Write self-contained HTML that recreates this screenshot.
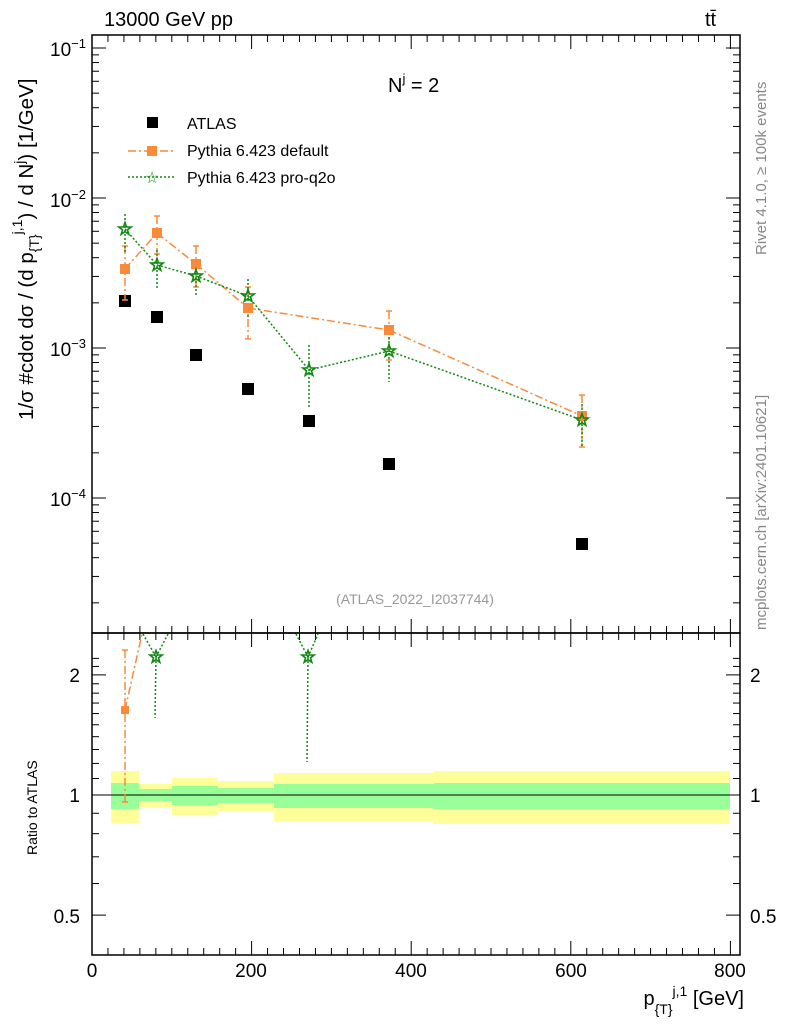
<!DOCTYPE html>
<html><head><meta charset="utf-8"><style>body{margin:0;background:#fff}svg{display:block}text{font-family:"Liberation Sans",sans-serif}</style></head>
<body>
<svg id="s" width="786" height="1024" viewBox="0 0 786 1024" xmlns="http://www.w3.org/2000/svg">
<g id="bands">
<rect x="111" y="771" width="28" height="52" fill="#ffff99"/><rect x="111" y="783" width="28" height="26" fill="#99ff99"/>
<rect x="139" y="784" width="33" height="23" fill="#ffff99"/><rect x="139" y="789" width="33" height="12" fill="#99ff99"/>
<rect x="172" y="778" width="46" height="37" fill="#ffff99"/><rect x="172" y="786" width="46" height="19" fill="#99ff99"/>
<rect x="218" y="781" width="56" height="30" fill="#ffff99"/><rect x="218" y="788" width="56" height="15" fill="#99ff99"/>
<rect x="274" y="773" width="160" height="48" fill="#ffff99"/><rect x="274" y="784" width="160" height="24" fill="#99ff99"/>
<rect x="434" y="771" width="296" height="53" fill="#ffff99"/><rect x="434" y="783" width="296" height="26" fill="#99ff99"/>
</g>
<line x1="92" y1="795" x2="740" y2="795" stroke="#000" stroke-width="1"/>
<g id="ticks" stroke="#000" fill="none"></g>
<rect x="92" y="35" width="648" height="598" fill="none" stroke="#000" stroke-width="1.5"/>
<rect x="92" y="633" width="648" height="322" fill="none" stroke="#000" stroke-width="1.5"/>
<g id="data"></g>
<text x="104" y="26" font-size="20">13000 GeV pp</text>
<text x="705" y="26" font-size="20">tt̄</text>
<text x="388" y="92" font-size="20">N<tspan dy="-9" font-size="13">j</tspan><tspan dy="9"> = 2</tspan></text>
<rect x="147" y="117" width="11" height="11" fill="#000"/>
<text x="187" y="129" font-size="16">ATLAS</text>
<line x1="128" y1="151" x2="176" y2="151" stroke="#f88a3a" stroke-width="1.5" stroke-dasharray="8,3,2,3"/>
<rect x="147" y="146" width="10" height="10" fill="#f88a3a"/>
<text x="187" y="156" font-size="16">Pythia 6.423 default</text>
<line x1="128" y1="177" x2="176" y2="177" stroke="#118811" stroke-width="1.5" stroke-dasharray="2,2"/>
<text x="152" y="183" font-size="16" fill="#118811" text-anchor="middle">☆</text>
<text x="187" y="183" font-size="16">Pythia 6.423 pro-q2o</text>
<text x="415" y="604" font-size="14" fill="#999" text-anchor="middle">(ATLAS_2022_I2037744)</text>
<text transform="translate(766,255) rotate(-90)" font-size="15" fill="#888">Rivet 4.1.0, ≥ 100k events</text>
<text transform="translate(766,630) rotate(-90)" font-size="15" fill="#888">mcplots.cern.ch [arXiv:2401.10621]</text>
<text transform="translate(33,420) rotate(-90)" font-size="20.5">1/σ #cdot dσ / (d p<tspan dy="6" font-size="14">{T}</tspan><tspan dy="-17" font-size="14">j,1</tspan><tspan dy="11">) / d N</tspan><tspan dy="-9" font-size="14">j</tspan><tspan dy="9">) [1/GeV]</tspan></text>
<text transform="translate(37,855) rotate(-90)" font-size="14">Ratio to ATLAS</text>
<text x="744" y="1005" font-size="20" text-anchor="end">p<tspan dy="9" font-size="14">{T}</tspan><tspan dy="-18" font-size="14">j,1</tspan><tspan dy="9"> [GeV]</tspan></text>
<g font-size="19" text-anchor="middle">
<text x="92" y="977">0</text><text x="251" y="977">200</text><text x="411" y="977">400</text><text x="571" y="977">600</text><text x="730" y="977">800</text>
</g>
<g font-size="19" text-anchor="end">
<text x="86" y="56">10<tspan dy="-8" font-size="13">−1</tspan></text>
<text x="86" y="207">10<tspan dy="-8" font-size="13">−2</tspan></text>
<text x="86" y="356">10<tspan dy="-8" font-size="13">−3</tspan></text>
<text x="86" y="506">10<tspan dy="-8" font-size="13">−4</tspan></text>
<text x="80" y="682">2</text><text x="80" y="802">1</text><text x="80" y="923">0.5</text>
</g>
<g font-size="19">
<text x="750" y="682">2</text><text x="750" y="802">1</text><text x="750" y="923">0.5</text>
</g>
</svg>
<script>
var NS="http://www.w3.org/2000/svg",t=document.getElementById("ticks"),d=document.getElementById("data");
function L(g,a,b,c,e,col,w,da){var l=document.createElementNS(NS,"line");l.setAttribute("x1",a);l.setAttribute("y1",b);l.setAttribute("x2",c);l.setAttribute("y2",e);l.setAttribute("stroke",col||"#000");l.setAttribute("stroke-width",w||1);if(da)l.setAttribute("stroke-dasharray",da);g.appendChild(l);}
for(var v=0;v<=800;v+=20){var x=92+v*0.798,big=v%200==0,len=big?14:7;
L(t,x,955,x,955-len);L(t,x,633,x,633+len);L(t,x,633,x,633-len);L(t,x,35,x,35+len);}
function ym(v){return 348-150*Math.log10(v/1e-3);}
for(var e=-5;e<=-1;e++)for(var m=1;m<10;m++){var v=m*Math.pow(10,e),y=ym(v);if(y<35||y>633)continue;var len=m==1?14:7;L(t,92,y,92+len,y);L(t,740,y,740-len,y);}
function yr(r){return 795-399*Math.log10(r);}
[0.5,0.6,0.7,0.8,0.9,1,1.1,1.2,1.3,1.4,1.5,1.6,1.7,1.8,1.9,2,2.1,2.2].forEach(function(r){var y=yr(r);if(y<633||y>955)return;var len=(r==0.5||r==1||r==2)?14:7;L(t,92,y,92+len,y);L(t,740,y,740-len,y);});
var O="#f88a3a",G="#118811";
function sq(x,y,s,c){var r=document.createElementNS(NS,"rect");r.setAttribute("x",x-s/2);r.setAttribute("y",y-s/2);r.setAttribute("width",s);r.setAttribute("height",s);r.setAttribute("fill",c);d.appendChild(r);}
function star(x,y){var p=document.createElementNS(NS,"polygon"),pts=[];for(var i=0;i<10;i++){var a=-Math.PI/2+i*Math.PI/5,r=i%2?2.6:6.5;pts.push((x+r*Math.cos(a)).toFixed(1)+","+(y+r*Math.sin(a)).toFixed(1));}p.setAttribute("points",pts.join(" "));p.setAttribute("fill","none");p.setAttribute("stroke",G);p.setAttribute("stroke-width",1.6);d.appendChild(p);}
var oda="8,3,2,3",gda="2,2";
var orng=[[125,269,246,300],[157,233,216,254],[196,264,246,287],[248,308,287,339],[389,330,311,360],[582,416,395,447]];
var grn=[[125,229,214,253],[157,265,250,290],[196,276,261,296],[248,296,279,318],[309,370,345,409],[389,351,325,382],[582,420,404,446]];
var atl=[[125,301],[157,317],[196,355],[248,389],[309,421],[389,464],[582,544]];
atl.forEach(function(p){sq(p[0],p[1],12,"#000");});
for(var i=0;i<orng.length;i++){var p=orng[i];L(d,p[0],p[2],p[0],p[3],O,1.5,oda);L(d,p[0]-3,p[2],p[0]+3,p[2],O,1.5);L(d,p[0]-3,p[3],p[0]+3,p[3],O,1.5);if(i>0)L(d,orng[i-1][0],orng[i-1][1],p[0],p[1],O,1.5,oda);}
for(var i=0;i<grn.length;i++){var p=grn[i];L(d,p[0],p[2],p[0],p[3],G,1.5,gda);if(i>0)L(d,grn[i-1][0],grn[i-1][1],p[0],p[1],G,1.5,gda);}
orng.forEach(function(p){sq(p[0],p[1],10,O);});
grn.forEach(function(p){star(p[0],p[1]);});
L(d,125,650,125,802,O,1.5,oda);L(d,122,650,128,650,O,1.5);L(d,122,802,128,802,O,1.5);L(d,125,710,142,634,O,1.5,oda);sq(125,710,8,O);
L(d,156,657,155,718,G,1.5,gda);L(d,143,634,156,657,G,1.5,gda);L(d,156,657,168,634,G,1.5,gda);star(156,657);
L(d,308,657,307,762,G,1.5,gda);L(d,296,634,308,657,G,1.5,gda);L(d,308,657,318,634,G,1.5,gda);star(308,657);
</script>
</body></html>
